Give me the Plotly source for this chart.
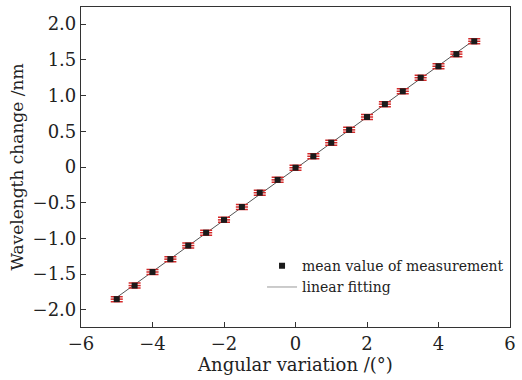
import numpy as np
import plotly.graph_objects as go

angle = [-5, -4.5, -4, -3.5, -3, -2.5, -2, -1.5, -1, -0.5, 0,
         0.5, 1, 1.5, 2, 2.5, 3, 3.5, 4, 4.5, 5]
wavelength = [-1.85, -1.66, -1.47, -1.29, -1.10, -0.92, -0.74, -0.56, -0.36, -0.18, -0.01,
              0.15, 0.34, 0.52, 0.70, 0.88, 1.06, 1.25, 1.41, 1.58, 1.76]
err_y = [0.035] * len(angle)
err_x = [0.17] * len(angle)

x_ticks = [-6, -4, -2, 0, 2, 4, 6]
x_ticklabels = ["\u22126", "\u22124", "\u22122", "0", "2", "4", "6"]
y_ticks = [-2.0, -1.5, -1.0, -0.5, 0, 0.5, 1.0, 1.5, 2.0]
y_ticklabels = ["\u22122.0", "\u22121.5", "\u22121.0", "\u22120.5", "0", "0.5", "1.0", "1.5", "2.0"]

slope, intercept = np.polyfit(angle, wavelength, 1)
fit_x = [angle[0], angle[-1]]
fit_y = [slope * v + intercept for v in fit_x]

FONT = "DejaVu Serif"
fig = go.Figure()
fig.add_trace(go.Scatter(
    x=fit_x, y=fit_y, mode="lines", name="linear fitting",
    line=dict(color="#555555", width=1), showlegend=False))
fig.add_trace(go.Scatter(
    x=angle, y=wavelength, mode="markers", name="mean value of measurement",
    marker=dict(symbol="square", size=6, color="#1a1a1a"),
    error_y=dict(type="data", array=err_y, color="#d42a2a", thickness=1.5, width=6),
    error_x=dict(type="data", array=err_x, color="#d42a2a", thickness=1.5, width=0),
    showlegend=True,
))
fig.add_trace(go.Scatter(
    x=[None], y=[None], mode="lines", name="linear fitting",
    line=dict(color="#999999", width=1), showlegend=True))

fig.update_layout(
    width=522, height=380,
    margin=dict(l=81, r=6, t=7, b=53),
    paper_bgcolor="white", plot_bgcolor="white",
    font=dict(family=FONT, color="#222222"),
    showlegend=True,
    legend=dict(x=0.422, y=0.24, xanchor="left", yanchor="top",
                font=dict(family=FONT, size=14, color="#222222"),
                bgcolor="rgba(0,0,0,0)", tracegroupgap=0, itemwidth=30),
    xaxis=dict(range=[-6, 6], tickvals=x_ticks, ticktext=x_ticklabels,
               ticks="inside", ticklen=5, tickcolor="#333333",
               showline=True, linecolor="#333333", linewidth=1.2, mirror=True,
               showgrid=False, zeroline=False,
               tickfont=dict(family=FONT, size=18),
               title=dict(text="Angular variation /(\u00b0)", font=dict(family=FONT, size=18), standoff=1)),
    yaxis=dict(range=[-2.24, 2.24], tickvals=y_ticks, ticktext=y_ticklabels,
               ticks="inside", ticklen=5, tickcolor="#333333",
               showline=True, linecolor="#333333", linewidth=1.2, mirror=True,
               showgrid=False, zeroline=False,
               tickfont=dict(family=FONT, size=18),
               title=dict(text="Wavelength change /nm", font=dict(family=FONT, size=17), standoff=4)),
)
fig.write_html("out.html")
